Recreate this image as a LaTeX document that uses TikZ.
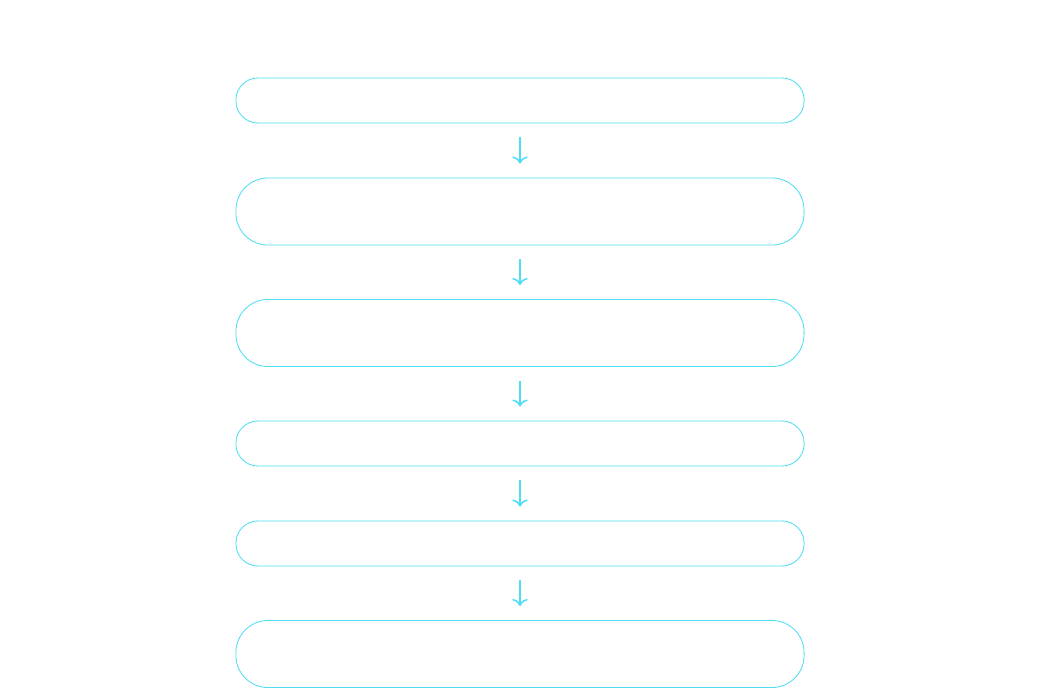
\documentclass[tikz,border=0pt]{standalone}
\usetikzlibrary{arrows.meta}
\definecolor{flowcyan}{HTML}{4FDDF5}
\begin{document}
\begin{tikzpicture}[x=0.025cm,y=-0.025cm,
    box/.style={draw=flowcyan, line width=0.6pt, minimum width=14.2cm, rounded corners=0.55cm},
    tallbox/.style={box, minimum height=1.675cm, rounded corners=0.8cm},
    shortbox/.style={box, minimum height=1.125cm},
    flow/.style={-{To[length=5pt,width=11pt]}, draw=flowcyan, line width=1.1pt, shorten >=10pt, shorten <=10pt}]
            \useasboundingbox (0,0) rectangle (1040,690);
            \node[shortbox](S1) at (520,100.5) {};
            \node[tallbox](S2)  at (520,211.5) {};
            \node[tallbox](S3)  at (520,333)   {};
            \node[shortbox](S4) at (520,443.5) {};
            \node[shortbox](S5) at (520,543.5) {};
            \node[tallbox](S6)  at (520,654)   {};
            \foreach \a/\b in {S1/S2,S2/S3,S3/S4,S4/S5,S5/S6}
                \draw[flow] (\a) -- (\b);
        \end{tikzpicture}
\end{document}
